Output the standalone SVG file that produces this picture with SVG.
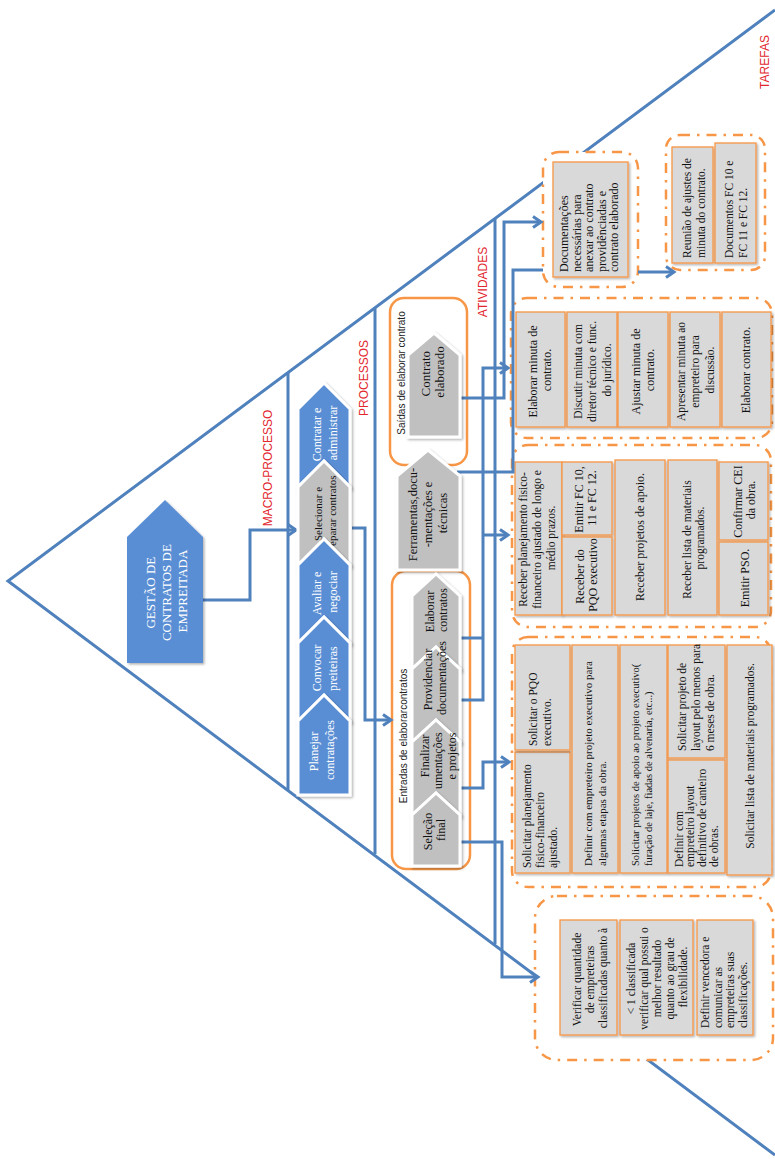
<svg xmlns="http://www.w3.org/2000/svg" width="775" height="1159" viewBox="0 0 775 1159">
  <style>
    .ln{fill:none;stroke:#4f81bd;stroke-width:3}
    .lay{fill:none;stroke:#4f81bd;stroke-width:3}
    .grp{fill:#fff;stroke:#f79646;stroke-width:2.5;stroke-dasharray:10 7 2.5 7}
    .cont{fill:#fff;stroke:#f79646;stroke-width:2.5}
    .box{fill:#d9d9d9;stroke:#f79646;stroke-width:1.3;filter:url(#sh)}
    .chb{fill:#5a8ed4;stroke:#fff;stroke-width:3;filter:url(#sh)}
    .chg{fill:#c0c0c0;stroke:#fff;stroke-width:3;filter:url(#sh)}
    .t{font-family:"Liberation Serif","Times New Roman",serif;font-size:11.5px;fill:#111}
    .tw{font-family:"Liberation Serif","Times New Roman",serif;font-size:12px;fill:#fff}
    .tc{font-family:"Liberation Serif","Times New Roman",serif;font-size:12px;fill:#111}
    .lbl{font-family:"Liberation Sans",Arial,sans-serif;font-size:12px;fill:#e3262e;text-anchor:middle}
    .cl{font-family:"Liberation Sans",Arial,sans-serif;font-size:10px;fill:#222;text-anchor:middle}
    .m{text-anchor:middle}
    .s{text-anchor:start}
    .e{text-anchor:end}
  </style>
  <defs>
    <filter id="sh" x="-15%" y="-15%" width="140%" height="140%">
      <feDropShadow dx="1.5" dy="1.5" stdDeviation="1.2" flood-color="#000" flood-opacity="0.3"/>
    </filter>
    <marker id="arr" markerUnits="userSpaceOnUse" markerWidth="14" markerHeight="14" refX="11" refY="7" orient="auto">
      <path d="M3,1.5 L11,7 L3,12.5" fill="none" stroke="#4f81bd" stroke-width="3"/>
    </marker>
  </defs>

  <!-- pyramid outline and layer separators -->
  <g id="pyramid">
    <path class="ln" d="M775,10 L8,581 L775,1155"/>
    <line class="lay" x1="288" y1="372" x2="288" y2="790"/>
    <line class="lay" x1="375" y1="308" x2="375" y2="854"/>
    <line class="lay" x1="495" y1="218" x2="495" y2="944"/>
  </g>

  <!-- layer titles -->
  <g id="layer-labels">
    <text class="lbl" transform="translate(272,468) rotate(-90)">MACRO-PROCESSO</text>
    <text class="lbl" transform="translate(368,378) rotate(-90)">PROCESSOS</text>
    <text class="lbl" transform="translate(487,282) rotate(-90)">ATIVIDADES</text>
    <text class="lbl" transform="translate(769,62) rotate(-90)">TAREFAS</text>
  </g>

  <!-- activity / task containers -->
  <g id="grp-documentacoes">
    <rect class="grp" x="543" y="152" width="95" height="135" rx="16"/>
    <rect class="box" x="553" y="162" width="75" height="115"/>
    <text class="t s" style="font-size:12px" transform="translate(589,272) rotate(-90)">
      <tspan x="0" y="-20.8">Documentações</tspan>
      <tspan x="0" y="-8.3">necessárias para</tspan>
      <tspan x="0" y="4.2">anexar ao contrato</tspan>
      <tspan x="0" y="16.7">providênciadas e</tspan>
      <tspan x="0" y="29.2">contrato elaborado</tspan>
    </text>
  </g>

  <g id="grp-tarefas">
    <rect class="grp" x="666" y="135" width="99" height="135" rx="14"/>
    <rect class="box" x="672" y="147" width="41" height="116"/>
    <text class="t s" transform="translate(694,258) rotate(-90)">
      <tspan x="0" y="-3">Reunião de ajustes de</tspan>
      <tspan x="0" y="11">minuta do contrato.</tspan>
    </text>
    <rect class="box" x="715" y="143" width="41" height="120"/>
    <text class="t s" transform="translate(736,258) rotate(-90)">
      <tspan x="0" y="-3">Documentos FC 10  e</tspan>
      <tspan x="0" y="11">FC 11 e FC 12.</tspan>
    </text>
  </g>

  <g id="grp-elaborar-minuta">
    <rect class="grp" x="511" y="298" width="261" height="140" rx="16"/>
    <rect class="box" x="516" y="312" width="49" height="115"/>
    <text class="t m" style="font-size:12px" transform="translate(540,370) rotate(-90)">
      <tspan x="0" y="-3">Elaborar  minuta de</tspan>
      <tspan x="0" y="11">contrato.</tspan>
    </text>
    <rect class="box" x="567" y="312" width="50" height="115"/>
    <text class="t m" transform="translate(592,370) rotate(-90)">
      <tspan x="0" y="-10.5">Discutir minuta  com</tspan>
      <tspan x="0" y="4">diretor técnico e func.</tspan>
      <tspan x="0" y="18.5">do jurídico.</tspan>
    </text>
    <rect class="box" x="618" y="312" width="50" height="115"/>
    <text class="t m" style="font-size:12px" transform="translate(643,370) rotate(-90)">
      <tspan x="0" y="-3">Ajustar minuta de</tspan>
      <tspan x="0" y="11">contrato.</tspan>
    </text>
    <rect class="box" x="670" y="312" width="50" height="115"/>
    <text class="t m" transform="translate(695,370) rotate(-90)">
      <tspan x="0" y="-10.5">Apresentar minuta ao</tspan>
      <tspan x="0" y="4">empreteiro para</tspan>
      <tspan x="0" y="18.5">discussão.</tspan>
    </text>
    <rect class="box" x="722" y="312" width="49" height="115"/>
    <text class="t m" style="font-size:12px" transform="translate(746,370) rotate(-90)">
      <tspan x="0" y="4">Elaborar contrato.</tspan>
    </text>
  </g>

  <g id="grp-receber">
    <rect class="grp" x="512" y="445" width="259" height="182" rx="16"/>
    <rect class="box" x="515" y="462" width="47" height="153"/>
    <text class="t m" transform="translate(537,538) rotate(-90)">
      <tspan x="0" y="-10">Receber planejamento  fisico-</tspan>
      <tspan x="0" y="4">financeiro ajustado de longo e</tspan>
      <tspan x="0" y="18">médio prazos.</tspan>
    </text>
    <rect class="box" x="562" y="462" width="50" height="73"/>
    <text class="t m" style="font-size:12px" transform="translate(585,498) rotate(-90)">
      <tspan x="0" y="-2.5">Emitir FC 10,</tspan>
      <tspan x="0" y="10.5">11 e FC 12.</tspan>
    </text>
    <rect class="box" x="562" y="537" width="50" height="78"/>
    <text class="t m" style="font-size:12px" transform="translate(586,575) rotate(-90)">
      <tspan x="0" y="-2.5">Receber  do</tspan>
      <tspan x="0" y="10.5">PQO executivo</tspan>
    </text>
    <rect class="box" x="615" y="460" width="50" height="155"/>
    <text class="t m" style="font-size:12px" transform="translate(640,537) rotate(-90)">
      <tspan x="0" y="4">Receber  projetos de apoio.</tspan>
    </text>
    <rect class="box" x="668" y="460" width="49" height="155"/>
    <text class="t m" transform="translate(693,538) rotate(-90)">
      <tspan x="0" y="-2.5">Receber  lista de materiais</tspan>
      <tspan x="0" y="10.5">programados.</tspan>
    </text>
    <rect class="box" x="719" y="462" width="49" height="78"/>
    <text class="t m" style="font-size:12px" transform="translate(744,500) rotate(-90)">
      <tspan x="0" y="-2.5">Confirmar CEI</tspan>
      <tspan x="0" y="10.5">da obra.</tspan>
    </text>
    <rect class="box" x="719" y="542" width="49" height="73"/>
    <text class="t m" style="font-size:12px" transform="translate(745,578) rotate(-90)">
      <tspan x="0" y="4">Emitir PSO.</tspan>
    </text>
  </g>

  <g id="grp-solicitar">
    <rect class="grp" x="512" y="637" width="259" height="250" rx="16"/>
    <rect class="box" x="515" y="752" width="55" height="121"/>
    <text class="t s" transform="translate(540,868) rotate(-90)">
      <tspan x="0" y="-8.6">Solicitar planejamento</tspan>
      <tspan x="0" y="4">fisico-financeiro</tspan>
      <tspan x="0" y="16.6">ajustado.</tspan>
    </text>
    <rect class="box" x="515" y="645" width="55" height="105"/>
    <text class="t s" transform="translate(540,746) rotate(-90)">
      <tspan x="0" y="-3">Solicitar  o PQO</tspan>
      <tspan x="0" y="11">executivo.</tspan>
    </text>
    <rect class="box" x="572" y="645" width="46" height="228"/>
    <text class="t s" style="font-size:11px" transform="translate(595,866) rotate(-90)">
      <tspan x="0" y="-3.15">Definir com empreteiro  projeto executivo para</tspan>
      <tspan x="0" y="10.85">algumas etapas da obra.</tspan>
    </text>
    <rect class="box" x="620" y="645" width="47" height="228"/>
    <text class="t s" style="font-size:10.5px" transform="translate(642,866) rotate(-90)">
      <tspan x="0" y="-2.8">Solicitar projetos de apoio ao projeto executivo(</tspan>
      <tspan x="0" y="10.2">furação de laje,  fiadas de alvenaria,  etc...)</tspan>
    </text>
    <rect class="box" x="668" y="645" width="57" height="113"/>
    <text class="t s" transform="translate(696,751) rotate(-90)">
      <tspan x="0" y="-10">Solicitar  projeto de</tspan>
      <tspan x="0" y="4">layout pelo menos para</tspan>
      <tspan x="0" y="18">6 meses de obra.</tspan>
    </text>
    <rect class="box" x="668" y="760" width="57" height="113"/>
    <text class="t s" transform="translate(696,867) rotate(-90)">
      <tspan x="0" y="-13.5">Definir com</tspan>
      <tspan x="0" y="-1.8">empreteiro layout</tspan>
      <tspan x="0" y="9.9">definitivo de canteiro</tspan>
      <tspan x="0" y="21.6">de obras.</tspan>
    </text>
    <rect class="box" x="727" y="645" width="45" height="230"/>
    <text class="t m" transform="translate(750,756) rotate(-90)">
      <tspan x="0" y="4">Solicitar lista de materiais  programados.</tspan>
    </text>
  </g>

  <g id="grp-verificar">
    <rect class="grp" x="535" y="896" width="238" height="164" rx="22"/>
    <rect class="box" x="560" y="920" width="57" height="115"/>
    <text class="t m" transform="translate(590,978) rotate(-90)">
      <tspan x="0" y="-9">Verificar quantidade</tspan>
      <tspan x="0" y="4">de empreteiras</tspan>
      <tspan x="0" y="17">classificadas quanto à</tspan>
    </text>
    <rect class="box" x="620" y="920" width="73" height="115"/>
    <text class="t m" transform="translate(657,977) rotate(-90)">
      <tspan x="0" y="-21.6">&lt; 1 classificada</tspan>
      <tspan x="0" y="-8.8">verificar qual possui o</tspan>
      <tspan x="0" y="4">melhor resultado</tspan>
      <tspan x="0" y="16.8">quanto ao grau de</tspan>
      <tspan x="0" y="29.6">flexibilidade.</tspan>
    </text>
    <rect class="box" x="697" y="920" width="56" height="115"/>
    <text class="t s" transform="translate(724,1028) rotate(-90)">
      <tspan x="0" y="-15">Definir vencedora e</tspan>
      <tspan x="0" y="-2.3">comunicar as</tspan>
      <tspan x="0" y="10.4">empreteiras  suas</tspan>
      <tspan x="0" y="23.1">classificações.</tspan>
    </text>
  </g>

  <!-- process containers -->
  <g id="saidas">
    <rect class="cont" x="390" y="298" width="77" height="167" rx="14"/>
    <text class="cl" transform="translate(405,373) rotate(-90)">Saídas de elaborar contrato</text>
  </g>
  <g id="entradas">
    <rect class="cont" x="392" y="571" width="78" height="298" rx="14"/>
    <text class="cl" transform="translate(407,736) rotate(-90)">Entradas de elaborarcontratos</text>
  </g>

  <!-- connectors -->
  <g id="connectors">
    <path class="ln" d="M203,600 H250 V530 H296" marker-end="url(#arr)"/>
    <path class="ln" d="M352,528 H365 V720 H391" marker-end="url(#arr)"/>
    <path class="ln" d="M458,398 H504 V222 H541" marker-end="url(#arr)"/>
    <path class="ln" d="M457,472 H513 V270 H543"/>
    <path class="ln" d="M460,638 H483"/>
    <path class="ln" d="M460,700 H483 V368 H508" marker-end="url(#arr)"/>
    <path class="ln" d="M483,535 H508" marker-end="url(#arr)"/>
    <path class="ln" d="M460,788 H483 V762 H509" marker-end="url(#arr)"/>
    <path class="ln" d="M460,842 H502 V977 H538" marker-end="url(#arr)"/>
    <path class="ln" d="M638,272 H674" marker-end="url(#arr)"/>
  </g>

  <!-- top node -->
  <g id="gestao">
    <polygon class="chb" style="stroke:none" points="165,500 203,537 203,663 127,663 127,537"/>
    <text class="tw m" style="font-size:13px" transform="translate(166,591) rotate(-90)">
      <tspan x="0" y="-11.5">GESTÃO DE</tspan>
      <tspan x="0" y="4.5">CONTRATOS DE</tspan>
      <tspan x="0" y="20.5">EMPREITADA</tspan>
    </text>
  </g>

  <!-- macro-process chain -->
  <g id="macro-contratar">
    <polygon class="chb" points="324,383 350,409 350,487 324,461 298,487 298,409"/>
    <text class="tw m" transform="translate(325,433) rotate(-90)">
      <tspan x="0" y="-4">Contratar e</tspan>
      <tspan x="0" y="12">administrar</tspan>
    </text>
  </g>
  <g id="macro-selecionar">
    <polygon class="chg" points="324,461 350,487 350,565 324,539 298,565 298,487"/>
    <text class="tc m" style="font-size:11px" transform="translate(325,514) rotate(-90)"><tspan x="0" y="-3.2">Selecionar  e</tspan></text>
    <text class="tc s" style="font-size:11px" transform="translate(325,546) rotate(-90)"><tspan x="0" y="10.8">eparar contratos</tspan></text>
  </g>
  <g id="macro-avaliar">
    <polygon class="chb" points="324,539 350,565 350,643 324,617 298,643 298,565"/>
    <text class="tw m" transform="translate(325,592) rotate(-90)">
      <tspan x="0" y="-4">Avaliar e</tspan>
      <tspan x="0" y="12">negociar</tspan>
    </text>
  </g>
  <g id="macro-convocar">
    <polygon class="chb" points="324,617 350,643 350,721 324,695 298,721 298,643"/>
    <text class="tw m" transform="translate(325,668) rotate(-90)"><tspan x="0" y="-4">Convocar</tspan></text>
    <text class="tw s" transform="translate(325,691) rotate(-90)"><tspan x="0" y="12">preiteiras</tspan></text>
  </g>
  <g id="macro-planejar">
    <polygon class="chb" points="324,695 350,721 350,795 298,795 298,721"/>
    <text class="tw m" transform="translate(322,750) rotate(-90)">
      <tspan x="0" y="-4">Planejar</tspan>
      <tspan x="0" y="12">contratações</tspan>
    </text>
  </g>

  <!-- process nodes -->
  <g id="proc-contrato-elaborado">
    <polygon class="chg" points="434,333 460,355 460,437 408,437 408,355"/>
    <text class="tc m" style="font-size:13px" transform="translate(432,372) rotate(-90)">
      <tspan x="0" y="-2">Contrato</tspan>
      <tspan x="0" y="11.5">elaborado</tspan>
    </text>
  </g>
  <g id="proc-ferramentas">
    <polygon class="chg" points="428,450 460,476 460,570 397,570 397,476"/>
    <text class="tc m" style="font-size:12.5px" transform="translate(428,513) rotate(-90)">
      <tspan x="0" y="-10.6">Ferramentas,docu-</tspan>
      <tspan x="0" y="4.4">-mentações e</tspan>
      <tspan x="0" y="19.4">técnicas</tspan>
    </text>
  </g>
  <g id="proc-elaborar">
    <polygon class="chg" points="436,574 460,596 460,669 436,647 412,669 412,596"/>
    <text class="tc m" transform="translate(436,610) rotate(-90)">
      <tspan x="0" y="-2.3">Elaborar</tspan>
      <tspan x="0" y="10.7">contratos</tspan>
    </text>
  </g>
  <g id="proc-providenciar">
    <polygon class="chg" points="436,647 460,669 460,742 436,720 412,742 412,669"/>
    <text class="tc m" transform="translate(435,678) rotate(-90)">
      <tspan x="0" y="-3">Providenciar</tspan>
      <tspan x="0" y="11">documentações</tspan>
    </text>
  </g>
  <g id="proc-finalizar">
    <polygon class="chg" points="436,720 460,742 460,815 436,793 412,815 412,742"/>
    <text class="tc m" transform="translate(438,756) rotate(-90)"><tspan x="0" y="-9.3">Finalizar</tspan></text>
    <text class="tc s" transform="translate(438,789) rotate(-90)"><tspan x="0" y="4.2">umentações</tspan></text>
    <text class="tc m" transform="translate(438,756) rotate(-90)"><tspan x="0" y="17.7">e projetos</tspan></text>
  </g>
  <g id="proc-selecao">
    <polygon class="chg" points="436,793 460,815 460,866 412,866 412,815"/>
    <text class="tc m" transform="translate(434,830) rotate(-90)">
      <tspan x="0" y="-2.3">Seleção</tspan>
      <tspan x="0" y="10.7">final</tspan>
    </text>
  </g>
</svg>
